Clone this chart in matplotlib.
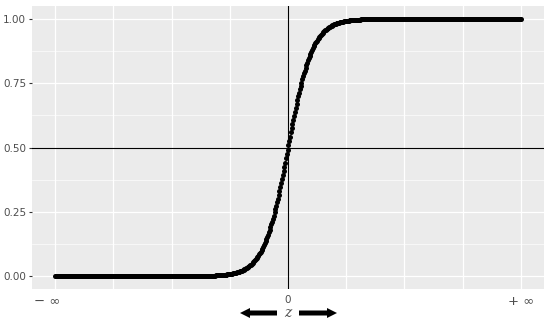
import matplotlib.pyplot as plt
import numpy as np
from matplotlib.transforms import ScaledTranslation

z_lo, z_hi, n_pts = -8, 8, 572
steep = 2.4
z = np.linspace(z_lo, z_hi, n_pts)
p = 1 / (1 + np.exp(-steep * z))

y_ticks = [0, 0.25, 0.5, 0.75, 1]
y_labels = ['0.00', '0.25', '0.50', '0.75', '1.00']
y_minor = [0.125, 0.375, 0.625, 0.875]
x_ticks = [-8, 0, 8]
x_labels = ['\u2212 \u221e', '0', '+ \u221e']
x_grid = [-8, -6, -4, -2, 0, 2, 4, 6, 8]

fig = plt.figure(figsize=(5.5, 3.24), dpi=100)
ax = fig.add_axes([32 / 550, 1 - 289 / 324, 512 / 550, 283 / 324])
ax.set_facecolor('#EBEBEB')
for s in ax.spines.values():
    s.set_visible(False)

ax.set_xticks(x_ticks)
ax.set_xticklabels(x_labels)
ax.set_xticks(x_grid, minor=True)
ax.set_yticks(y_ticks)
ax.set_yticklabels(y_labels)
ax.set_yticks(y_minor, minor=True)
ax.set_axisbelow(True)
ax.grid(which='both', axis='x', color='white', lw=0.9)
ax.grid(which='major', axis='y', color='white', lw=0.9)
ax.grid(which='minor', axis='y', color='white', lw=0.45)

ax.tick_params(which='minor', length=0)
ax.tick_params(axis='y', length=2.2, width=0.8, color='#333333',
               labelsize=7.5, labelcolor='#4D4D4D', pad=2)
ax.tick_params(axis='x', length=0, labelsize=7.5, labelcolor='#4D4D4D', pad=4)
xl = ax.get_xticklabels()
xl[0].set_fontsize(9.5)
xl[2].set_fontsize(9.5)
xl[0].set_transform(xl[0].get_transform() + ScaledTranslation(-8 / 100, 0, fig.dpi_scale_trans))

ax.axvline(0, color='k', lw=0.8, zorder=2)
ax.axhline(0.5, color='k', lw=0.8, zorder=2)
ax.plot(z, p, 'o', color='k', ms=3.6, mec='none', zorder=3)

ax.set_xlim(-8.8, 8.8)
ax.set_ylim(-0.05, 1.05)

# axis title: arrows either side of z
arrow = dict(arrowstyle='simple,head_length=0.9,head_width=0.9,tail_width=0.45',
             mutation_scale=8, color='k', lw=0, shrinkA=0, shrinkB=0)
ax.annotate('', xy=(240, 11), xytext=(277, 11), xycoords='figure pixels',
            textcoords='figure pixels', arrowprops=arrow)
ax.annotate('', xy=(337, 11), xytext=(299, 11), xycoords='figure pixels',
            textcoords='figure pixels', arrowprops=arrow)
fig.text(288 / 550, 11 / 324, 'z', ha='center', va='center', fontsize=10,
         color='#4D4D4D', family='DejaVu Serif', style='italic')

fig.savefig('out.png', dpi=100, facecolor='white')
